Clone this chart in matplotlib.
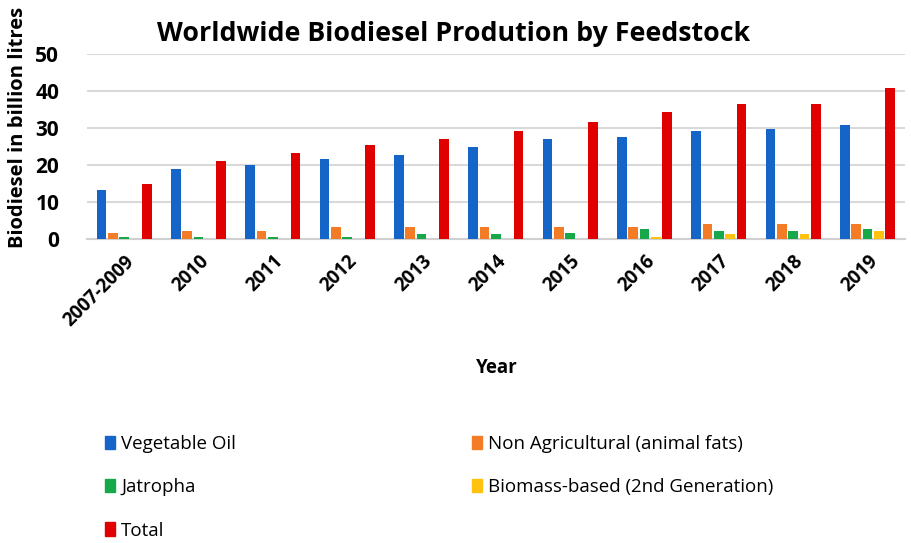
import numpy as np
import matplotlib.pyplot as plt
from matplotlib.patches import Patch

# Data (billion litres)
years = ["2007-2009", "2010", "2011", "2012", "2013", "2014",
         "2015", "2016", "2017", "2018", "2019"]
vegetable_oil = [13.2, 18.8, 20.0, 21.6, 22.7, 24.8, 27.1, 27.6, 29.2, 29.8, 30.8]
non_agricultural = [1.7, 2.2, 2.2, 3.3, 3.3, 3.3, 3.3, 3.3, 3.9, 3.9, 3.9]
jatropha = [0.6, 0.6, 0.6, 0.6, 1.2, 1.2, 1.7, 2.8, 2.2, 2.2, 2.8]
biomass = [0, 0, 0, 0, 0, 0, 0, 0.6, 1.2, 1.2, 2.2]
total = [14.9, 21.0, 23.1, 25.4, 27.1, 29.2, 31.5, 34.3, 36.4, 36.4, 40.7]

series = [vegetable_oil, non_agricultural, jatropha, biomass, total]
names = ["Vegetable Oil", "Non Agricultural (animal fats)", "Jatropha",
         "Biomass-based (2nd Generation)", "Total"]
colors = ["#1565C8", "#F57C26", "#17A84A", "#FFC20E", "#E00000"]

plt.rcParams['font.family'] = ['Open Sans', 'DejaVu Sans']

fig = plt.figure(figsize=(9.12, 5.43), dpi=100)
ax = fig.add_axes([0.0954, 0.56, 0.8966, 0.3406])

x = np.arange(len(years))
slot = 0.152
width = 0.13
for i, (vals, c) in enumerate(zip(series, colors)):
    ax.bar(x + (i - 2) * slot, vals, width, color=c, zorder=3)

ax.set_xlim(-0.5, len(years) - 0.5)
ax.set_ylim(0, 50)
ax.set_yticks([0, 10, 20, 30, 40, 50])
ax.grid(axis='y', color='#D9D9D9', linewidth=1.5, zorder=0)
for s in ['top', 'right', 'left']:
    ax.spines[s].set_visible(False)
ax.spines['bottom'].set_color('#D0D0D0')
ax.spines['bottom'].set_linewidth(1.5)
ax.tick_params(length=0)
ax.tick_params(axis='y', labelsize=15, pad=20)
ax.set_yticklabels([str(v) for v in [0, 10, 20, 30, 40, 50]], fontweight='bold')
ax.set_xticks(x)
ax.set_xticklabels(years, rotation=45, ha='right', rotation_mode='anchor',
                   fontsize=13.5, fontweight='bold')
ax.tick_params(axis='x', pad=9)

fig.text(0.497, 0.938, "Worldwide Biodiesel Prodution by Feedstock",
         ha='center', va='center', fontsize=19.3, fontweight='bold')
fig.text(0.02, 0.765, "Biodiesel in billion litres", rotation=90,
         ha='center', va='center', fontsize=14.5, fontweight='bold')
fig.text(0.545, 0.322, "Year", ha='center', va='center',
         fontsize=13.5, fontweight='bold')

order = [0, 2, 4, 1, 3]
handles = [Patch(color=colors[k]) for k in order]
labels = [names[k] for k in order]
fig.legend(handles, labels, ncol=2, loc='upper left',
           bbox_to_anchor=(0.097, 0.23), frameon=False, fontsize=13.5,
           handlelength=0.5, handleheight=0.7, handletextpad=0.35,
           labelspacing=1.35, columnspacing=12.6)

fig.savefig("out.png", dpi=100)
